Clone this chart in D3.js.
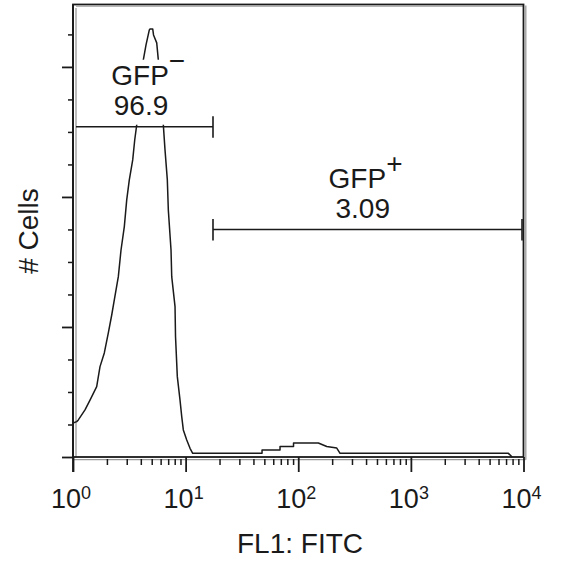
<!DOCTYPE html>
<html>
<head>
<meta charset="utf-8">
<script src="https://cdn.jsdelivr.net/npm/d3@7"></script>
<style>
  body { margin: 0; background: #fff; }
  text { font-family: "Liberation Sans", Arial, Helvetica, sans-serif; fill: #1a1a1a; }
</style>
</head>
<body>
<svg id="chart" width="561" height="564"></svg>
<script>
// histogram outline, FL1 channel value vs cell count
var fl1 = [1.00, 1.079, 1.115, 1.278, 1.416, 1.623, 1.737, 1.897, 2.059, 2.207, 2.327, 2.526, 2.669, 2.855, 2.999,
  3.162, 3.390, 3.532, 3.679, 3.936, 4.211, 4.450, 4.761, 4.829, 5.103, 5.187, 5.538, 5.722, 6.046, 6.339, 6.561,
  6.879, 7.021, 7.419, 7.526, 8.053, 8.135, 8.438, 8.918, 9.234, 9.541, 10.23, 10.94, 11.56,
  47.7, 47.7, 68.9, 68.9, 90.8, 90.8, 150.8, 179.1, 219.8, 235.1, 7345, 7925];
var counts = [26.2, 27.2, 28.5, 36.2, 43.8, 54.1, 69.5, 80.0, 95.4, 109.2, 120.8, 138.7, 159.2, 177.2, 197.7,
  213.1, 228.5, 243.8, 255.4, 278.5, 305.4, 316.9, 328.5, 329.2, 329.2, 324.6, 318.5, 305.4, 282.3, 255.4, 236.2,
  213.1, 190.0, 159.2, 138.7, 115.6, 92.5, 61.8, 43.8, 31.0, 20.8, 13.1, 6.7, 2.8,
  2.8, 5.4, 5.4, 8.1, 8.1, 10.8, 10.8, 8.1, 6.9, 2.8, 2.8, 0];

// gates
var gateSign = ["\u2212", "+"];
var gatePct = ["96.9", "3.09"];
var gateLo = [1, 17.5];
var gateHi = [17.5, 9700];
var gateLevel = [254, 175];

// axis ticks
var xDecades = [0, 1, 2, 3, 4];
var yMajor = [0, 100, 200, 300];
var yMinor = [25, 50, 75, 125, 150, 175, 225, 250, 275, 325];

var ink = "#1a1a1a";
var chartDim = {left: 73, right: 523.5, top: 4.5, bottom: 457};

var xScale = d3.scaleLog()
  .domain([1, 1e4])
  .range([chartDim.left, chartDim.right]);

var yScale = d3.scaleLinear()
  .domain([0, 348])
  .range([chartDim.bottom, chartDim.top]);

var svg = d3.select("#chart");

// ###########################################
// frame (dark outline with grey inner shadow)
svg.append("line")
  .attr("x1", chartDim.left + 3).attr("x2", chartDim.left + 3)
  .attr("y1", chartDim.top + 3.5).attr("y2", chartDim.bottom)
  .attr("stroke", "#9a9a9a").attr("stroke-width", 1.3);
svg.append("line")
  .attr("x1", chartDim.left).attr("x2", chartDim.right + 2)
  .attr("y1", chartDim.bottom + 2.7).attr("y2", chartDim.bottom + 2.7)
  .attr("stroke", "#9a9a9a").attr("stroke-width", 1.3);
svg.append("line")
  .attr("x1", chartDim.right + 2.3).attr("x2", chartDim.right + 2.3)
  .attr("y1", chartDim.top + 1).attr("y2", chartDim.bottom + 2.7)
  .attr("stroke", "#9a9a9a").attr("stroke-width", 1.3);
svg.append("line")
  .attr("x1", chartDim.left + 3).attr("x2", chartDim.right)
  .attr("y1", chartDim.top + 2).attr("y2", chartDim.top + 2)
  .attr("stroke", "#b5b5b5").attr("stroke-width", 1);

svg.append("rect")
  .attr("x", chartDim.left).attr("y", chartDim.top)
  .attr("width", chartDim.right - chartDim.left)
  .attr("height", chartDim.bottom - chartDim.top)
  .attr("fill", "none").attr("stroke", ink).attr("stroke-width", 1.8);

// ###########################################
// X-axis: minor + major ticks
var xMinorVals = xScale.ticks().filter(v => !xDecades.map(e => Math.pow(10, e)).includes(v));

svg.append("g")
  .attr("transform", `translate(0,${chartDim.bottom + 2})`)
  .call(d3.axisBottom(xScale).tickValues(xMinorVals).tickSize(6).tickFormat(""))
  .call(g => g.select(".domain").remove())
  .selectAll("line").attr("stroke", ink).attr("stroke-width", 1.5);

svg.append("g")
  .attr("transform", `translate(0,${chartDim.bottom})`)
  .call(d3.axisBottom(xScale).tickValues(xDecades.map(e => Math.pow(10, e))).tickSize(15).tickFormat(""))
  .call(g => g.select(".domain").remove())
  .selectAll("line").attr("stroke", ink).attr("stroke-width", 1.8);

var xLab = svg.selectAll("text.xlab")
  .data(xDecades)
  .join("text")
    .attr("class", "xlab")
    .attr("x", d => xScale(Math.pow(10, d)) - 2)
    .attr("y", 508)
    .attr("text-anchor", "middle")
    .style("font-size", "27px");
xLab.append("tspan").text("10");
xLab.append("tspan").attr("dy", -9).style("font-size", "18px").text(d => d);

// yaxis
svg.append("g")
  .attr("transform", `translate(${chartDim.left},0)`)
  .call(d3.axisLeft(yScale).tickValues(yMinor).tickSize(5).tickFormat(""))
  .call(g => g.select(".domain").remove())
  .selectAll("line").attr("stroke", ink).attr("stroke-width", 1.5);

svg.append("g")
  .attr("transform", `translate(${chartDim.left},0)`)
  .call(d3.axisLeft(yScale).tickValues(yMajor).tickSize(11).tickFormat(""))
  .call(g => g.select(".domain").remove())
  .selectAll("line").attr("stroke", ink).attr("stroke-width", 1.8);

// left axis line runs down past the frame
svg.append("line")
  .attr("x1", chartDim.left).attr("x2", chartDim.left)
  .attr("y1", chartDim.top).attr("y2", chartDim.bottom + 15)
  .attr("stroke", ink).attr("stroke-width", 1.8);

// ###################################################
//  Histogram line
var pts = fl1.map((v, i) => [v, counts[i]]);

svg.append("path")
  .datum(pts)
  .attr("d", d3.line().x(d => xScale(d[0])).y(d => yScale(d[1])))
  .attr("fill", "none")
  .attr("stroke", ink)
  .attr("stroke-width", 1.5)
  .attr("stroke-linejoin", "round");

// ###################################################
//  Gates + labels (labels sit on a white box, hiding the curve behind)
var gates = gateSign.map((s, i) => ({sign: s, pct: gatePct[i], lo: gateLo[i], hi: gateHi[i], lvl: gateLevel[i], i: i}));
var labelDx = [[38.3, 40.8], [115.6, 122.5]];

gates.forEach(g => {
  var x1 = g.i === 0 ? chartDim.left + 3 : xScale(g.lo);
  var x2 = xScale(g.hi);
  var y = yScale(g.lvl);
  var lx = xScale(g.lo) + labelDx[g.i][0];

  svg.append("rect")
    .attr("x", lx - 2).attr("y", y - 67)
    .attr("width", 78).attr("height", 65)
    .attr("fill", "#fff");

  svg.append("line")
    .attr("x1", x1).attr("x2", x2).attr("y1", y).attr("y2", y)
    .attr("stroke", ink).attr("stroke-width", 1.6);
  var ends = g.i === 0 ? [x2] : [x1, x2];
  ends.forEach(ex => {
    svg.append("line")
      .attr("x1", ex).attr("x2", ex).attr("y1", y - 10.5).attr("y2", y + 11)
      .attr("stroke", ink).attr("stroke-width", 1.6);
  });

  var t = svg.append("text")
    .attr("x", lx)
    .attr("y", y - 41.5)
    .style("font-size", "28px");
  t.append("tspan").text("GFP");
  t.append("tspan").attr("dy", -15).text(g.sign);
  svg.append("text")
    .attr("x", xScale(g.lo) + labelDx[g.i][1])
    .attr("y", y - 11.5)
    .style("font-size", "28px")
    .text(g.pct);
});

// ###################################################
//  Axis titles
svg.append("text")
  .attr("x", 300)
  .attr("y", 553)
  .attr("text-anchor", "middle")
  .style("font-size", "28px")
  .text("FL1: FITC");

svg.append("text")
  .attr("transform", "translate(38,231) rotate(-90)")
  .attr("text-anchor", "middle")
  .style("font-size", "28px")
  .text("# Cells");
</script>
</body>
</html>
